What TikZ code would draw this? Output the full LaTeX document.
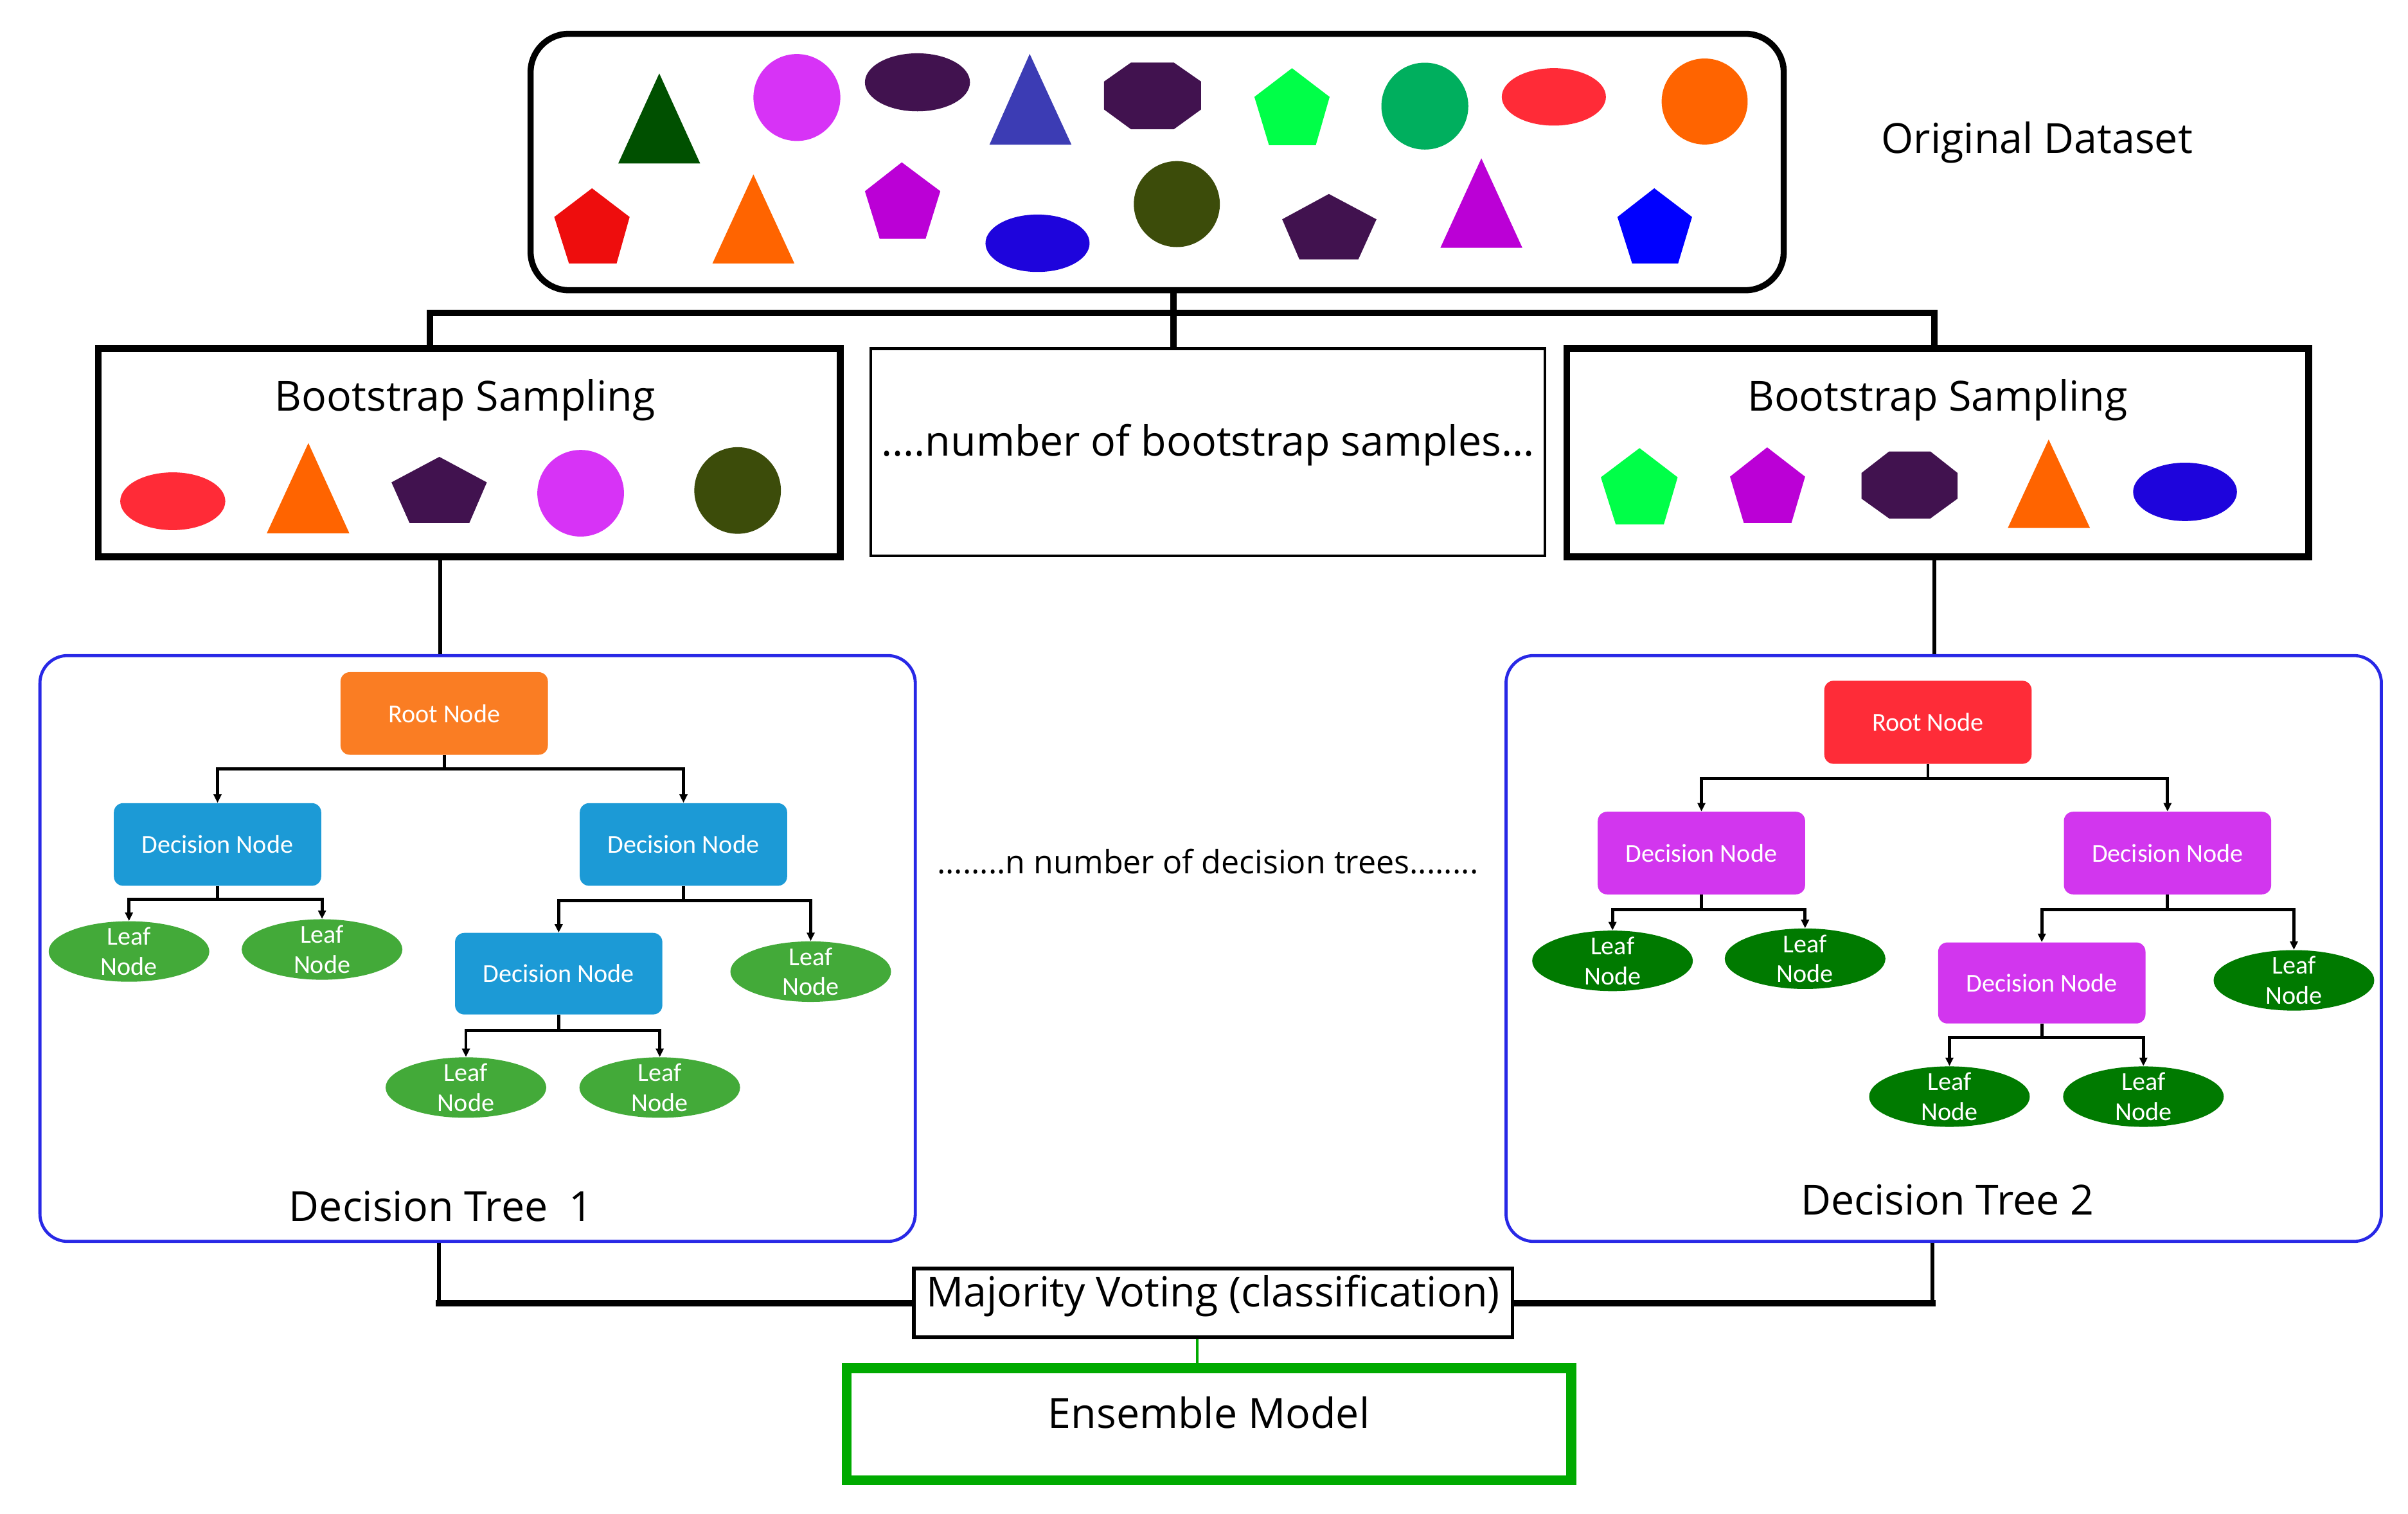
\documentclass[tikz,border=0pt]{standalone}
\usepackage{fontspec}
\setmainfont{Open Sans}
\newfontfamily\calfont{Carlito}
\usetikzlibrary{arrows.meta,shapes.geometric}
\definecolor{cDkGreen}{RGB}{0,80,0}
\definecolor{cMagenta}{RGB}{215,51,246}
\definecolor{cDkPurple}{RGB}{65,18,79}
\definecolor{cBlueTri}{RGB}{60,60,180}
\definecolor{cBrGreen}{RGB}{0,255,72}
\definecolor{cGreen}{RGB}{0,175,94}
\definecolor{cRed}{RGB}{255,43,55}
\definecolor{cOrange}{RGB}{255,100,0}
\definecolor{cRedP}{RGB}{238,13,13}
\definecolor{cPurple}{RGB}{187,0,214}
\definecolor{cBlueE}{RGB}{30,4,220}
\definecolor{cOlive}{RGB}{60,76,10}
\definecolor{cBluePent}{RGB}{0,0,255}
\definecolor{cTreeBlue}{RGB}{40,40,230}
\definecolor{cRoot1}{RGB}{250,125,35}
\definecolor{cDec1}{RGB}{28,154,214}
\definecolor{cLeaf1}{RGB}{67,170,57}
\definecolor{cRoot2}{RGB}{254,44,56}
\definecolor{cDec2}{RGB}{210,54,238}
\definecolor{cLeaf2}{RGB}{0,122,0}
\definecolor{cEns}{RGB}{0,170,0}
\begin{document}
\begin{tikzpicture}[x=1pt,y=-1pt,
  big/.style={font=\fontsize{27}{32}\selectfont, inner sep=0pt},
  boxtext/.style={big, text height=0.72em, text depth=0.25em},
  bsbox/.style={draw=black, line width=4.5pt, minimum width=483pt, minimum height=135.5pt, inner sep=0pt},
  treebox/.style={draw=cTreeBlue, line width=2pt, rounded corners=18pt, minimum width=570pt, minimum height=381.5pt, inner sep=0pt},
  tnode/.style={rounded corners=6pt, minimum width=135pt, minimum height=53.8pt, inner sep=0pt, text=white, font=\calfont\fontsize{16.8}{19.5}\selectfont},
  leaf/.style={ellipse, minimum width=104.6pt, minimum height=39.4pt, inner sep=0pt},
  leaftext/.style={text=white, align=center, inner sep=0pt, font=\calfont\fontsize{16.8}{19.5}\selectfont},
  arr/.style={line width=2pt, -{Triangle[length=5.5pt,width=5pt]}},
  topline/.style={line width=4.2pt},
  thinline/.style={line width=2.5pt},
  botline/.style={line width=4.2pt, line cap=rect}
]
\useasboundingbox (0,0) rectangle (1568,985.5);

% ---------- original dataset ----------
\node[draw=black, line width=4pt, rounded corners=25pt, minimum width=816pt, minimum height=167pt, inner sep=0pt] (ds) at (753.5,105.5) {};
\node[big, anchor=base] (odt) at (1326.4,100) {Original Dataset};

\fill[cDkGreen] (429.3,47.8) -- (455.9,106.4) -- (402.6,106.4) -- cycle;
\fill[cMagenta] (518.9,63.5) circle[radius=28.3pt];
\fill[cDkPurple] (597.4,53.6) ellipse[x radius=34.2pt, y radius=18.9pt];
\fill[cBlueTri] (670.5,35.1) -- (697.7,94.2) -- (644.3,94.2) -- cycle;
\fill[cDkPurple] (736.5,40.7) -- (764.3,40.7) -- (782.1,53.1) -- (782.1,71.3) -- (764.3,84.2) -- (736.5,84.2) -- (718.9,71.3) -- (718.9,53.1) -- cycle;
\fill[cBrGreen] (841.3,44.4) -- (865.8,63.1) -- (856.8,94.5) -- (826.3,94.5) -- (816.8,63.1) -- cycle;
\fill[cGreen] (927.8,69.1) circle[radius=28.3pt];
\fill[cRed] (1011.8,63.1) ellipse[x radius=33.9pt, y radius=18.7pt];
\fill[cOrange] (1110,66.1) circle[radius=28pt];

\fill[cRedP] (385.5,122.6) -- (410.0,141.3) -- (401.5,171.6) -- (370.5,171.6) -- (360.9,141.3) -- cycle;
\fill[cOrange] (490.6,113.6) -- (517.3,171.6) -- (463.9,171.6) -- cycle;
\fill[cPurple] (587.2,105.7) -- (612.3,124.5) -- (602.7,155.5) -- (572.8,155.5) -- (563.2,124.5) -- cycle;
\fill[cBlueE] (675.6,158.4) ellipse[x radius=33.9pt, y radius=18.7pt];
\fill[cOlive] (766.3,132.9) circle[radius=28pt];
\fill[cDkPurple] (865.3,126.3) -- (896.3,142.8) -- (884.5,168.9) -- (846.1,168.9) -- (834.9,142.8) -- cycle;
\fill[cPurple] (964.6,103.1) -- (991.3,161.4) -- (937.9,161.4) -- cycle;
\fill[cBluePent] (1077.2,122.6) -- (1101.8,141.3) -- (1092.7,171.6) -- (1062.8,171.6) -- (1053.2,141.3) -- cycle;

% ---------- bootstrap boxes ----------
\node[bsbox] (bs1) at (305.5,294.75) {};
\node[bsbox] (bs2) at (1261.75,294.75) {};
\node[draw=black, line width=2pt, minimum width=439pt, minimum height=135pt, boxtext] (mid) at (786.5,294.5) {....number of bootstrap samples...};
\node[big, anchor=base] (bst1) at (302.8,267.8) {Bootstrap Sampling};
\node[big, anchor=base] (bst2) at (1261.7,267.8) {Bootstrap Sampling};

\fill[cRed] (112.5,326.4) ellipse[x radius=34.2pt, y radius=18.8pt];
\fill[cOrange] (200.8,288.5) -- (227.5,347.3) -- (173.7,347.3) -- cycle;
\fill[cDkPurple] (286.1,297.5) -- (317.0,314.1) -- (305.6,340.6) -- (266.7,340.6) -- (254.9,314.1) -- cycle;
\fill[cMagenta] (378.1,321.2) circle[radius=28.2pt];
\fill[cOlive] (480.3,319.4) circle[radius=28.2pt];

\fill[cBrGreen] (1067.6,291.8) -- (1092.4,310.8) -- (1083.4,341.5) -- (1052.1,341.5) -- (1042.4,310.8) -- cycle;
\fill[cPurple] (1150.7,291.3) -- (1175.4,310.4) -- (1166.5,340.6) -- (1135.5,340.6) -- (1126.5,310.4) -- cycle;
\fill[cDkPurple] (1230.1,294.0) -- (1257.0,294.0) -- (1274.7,308.0) -- (1274.7,324.7) -- (1257.0,337.6) -- (1230.1,337.6) -- (1212.1,324.7) -- (1212.1,308.0) -- cycle;
\fill[cOrange] (1334.0,286.2) -- (1360.9,343.8) -- (1307.4,343.8) -- cycle;
\fill[cBlueE] (1422.8,320.3) ellipse[x radius=33.8pt, y radius=19pt];

% top connectors
\coordinate (j) at (764.3,203.7);
\coordinate (b1top) at ([xshift=-25.5pt]bs1.north);
\coordinate (b2top) at ([xshift=-2pt]bs2.north);
\draw[topline] (j |- ds.south) -- (j |- mid.north);
\draw[topline] (b1top) |- (j) -| (b2top);

% ---------- tree boxes ----------
\node[treebox] (t1) at (311,617.65) {};
\node[treebox] (t2) at (1265.65,617.65) {};

\coordinate (c1) at ([xshift=-19pt]bs1.south);
\coordinate (c2) at ([xshift=-2pt]bs2.south);
\draw[thinline] (c1) -- (c1 |- t1.north);
\draw[thinline] (c2) -- (c2 |- t2.north);

% tree 1
\node[tnode, fill=cRoot1] (r1) at (289.25,464.6) {Root Node};
\node[tnode, fill=cDec1] (d1a) at (141.65,549.9) {Decision Node};
\node[tnode, fill=cDec1] (d1b) at (445.05,549.9) {Decision Node};
\node[tnode, fill=cDec1, minimum height=53.1pt] (d1c) at (363.8,634.05) {Decision Node};
\node[leaf, fill=cLeaf1] (l1a) at (84,619.6) {};
\node[leaf, fill=cLeaf1] (l1b) at (209.7,618.3) {};
\node[leaf, fill=cLeaf1] (l1c) at (527.9,632.7) {};
\node[leaf, fill=cLeaf1] (l1d) at (303.4,708.2) {};
\node[leaf, fill=cLeaf1] (l1e) at (429.6,708.2) {};
\node[leaftext] (l1at) at (l1a) {Leaf\\Node};
\node[leaftext] (l1bt) at (l1b) {Leaf\\Node};
\node[leaftext] (l1ct) at (l1c) {Leaf\\Node};
\node[leaftext] (l1dt) at (l1d) {Leaf\\Node};
\node[leaftext] (l1et) at (l1e) {Leaf\\Node};
\draw[arr] (r1.south) -- ++(0,8.9) -| (d1a.north);
\draw[arr] (r1.south) -- ++(0,8.9) -| (d1b.north);
\draw[arr] (d1a.south) -- ++(0,8.7) -| (l1a.north);
\draw[arr] (d1a.south) -- ++(0,8.7) -| (l1b.north);
\draw[arr] (d1b.south) -- ++(0,9.5) -| (d1c.north);
\draw[arr] (d1b.south) -- ++(0,9.5) -| (l1c.north);
\draw[arr] (d1c.south) -- ++(0,10.2) -| (l1d.north);
\draw[arr] (d1c.south) -- ++(0,10.2) -| (l1e.north);
\node[big, anchor=base] (dt1) at (287.2,795.1) {Decision Tree\ \ 1};

% tree 2
\node[tnode, fill=cRoot2, minimum height=54.1pt] (r2) at (1255.4,470.35) {Root Node};
\node[tnode, fill=cDec2] (d2a) at (1107.9,555.5) {Decision Node};
\node[tnode, fill=cDec2] (d2b) at (1411.4,555.5) {Decision Node};
\node[tnode, fill=cDec2, minimum height=52.8pt] (d2c) at (1329.55,640.1) {Decision Node};
\node[leaf, fill=cLeaf2] (l2a) at (1050,625.7) {};
\node[leaf, fill=cLeaf2] (l2b) at (1175.4,624.3) {};
\node[leaf, fill=cLeaf2] (l2c) at (1493.7,638.4) {};
\node[leaf, fill=cLeaf2] (l2d) at (1269.4,714.1) {};
\node[leaf, fill=cLeaf2] (l2e) at (1395.7,714.1) {};
\node[leaftext] (l2at) at (l2a) {Leaf\\Node};
\node[leaftext] (l2bt) at (l2b) {Leaf\\Node};
\node[leaftext] (l2ct) at (l2c) {Leaf\\Node};
\node[leaftext] (l2dt) at (l2d) {Leaf\\Node};
\node[leaftext] (l2et) at (l2e) {Leaf\\Node};
\draw[arr] (r2.south) -- ++(0,9.4) -| (d2a.north);
\draw[arr] (r2.south) -- ++(0,9.4) -| (d2b.north);
\draw[arr] (d2a.south) -- ++(0,9.8) -| (l2a.north);
\draw[arr] (d2a.south) -- ++(0,9.8) -| (l2b.north);
\draw[arr] (d2b.south) -- ++(0,9.8) -| (d2c.north);
\draw[arr] (d2b.south) -- ++(0,9.8) -| (l2c.north);
\draw[arr] (d2c.south) -- ++(0,8.9) -| (l2d.north);
\draw[arr] (d2c.south) -- ++(0,8.9) -| (l2e.north);
\node[big, anchor=base] (dt2) at (1268.1,791.2) {Decision Tree 2};

\node[font=\fontsize{21}{25}\selectfont, anchor=base, inner sep=0pt] (ndt) at (786.4,569) {........n number of decision trees........};

% ---------- voting and ensemble ----------
\node[draw=black, line width=2.5pt, minimum width=390pt, minimum height=45pt, boxtext] (mv) at (789.85,848.5) {Majority Voting (classification)};
\node[draw=cEns, line width=6.5pt, minimum width=471.7pt, minimum height=73pt, boxtext] (en) at (787.2,927.5) {Ensemble Model};

\coordinate (c3) at ([xshift=-25.2pt]t1.south);
\coordinate (c4) at ([xshift=-7.15pt]t2.south);
\draw[thinline] (c3) -- (c3 |- mv.west);
\draw[botline] (c3 |- mv.west) -- (mv.west);
\draw[thinline] (c4) -- (c4 |- mv.east);
\draw[botline] (c4 |- mv.east) -- (mv.east);
\coordinate (c5) at ([xshift=-10.35pt]mv.south);
\draw[cEns, line width=1.6pt] (c5) -- (c5 |- en.north);
\end{tikzpicture}
\end{document}
